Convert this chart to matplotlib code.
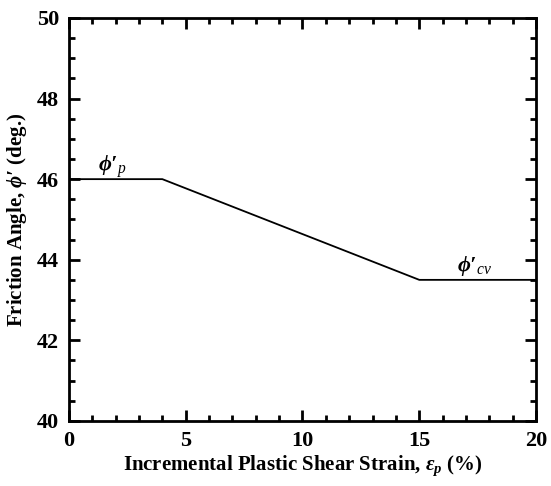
import matplotlib
matplotlib.use("Agg")
import matplotlib.pyplot as plt
from matplotlib.ticker import MultipleLocator

plt.rcParams['font.family'] = 'Liberation Serif'
plt.rcParams['font.weight'] = 'bold'
plt.rcParams['mathtext.fontset'] = 'custom'
plt.rcParams['mathtext.rm'] = 'Liberation Serif:weight=bold'
plt.rcParams['mathtext.it'] = 'Liberation Serif:style=italic:weight=normal'
plt.rcParams['mathtext.bf'] = 'Liberation Serif:weight=bold'
plt.rcParams['mathtext.bfit'] = 'Liberation Serif:style=italic:weight=bold'

# piecewise friction angle model
strain = [0, 4, 15, 20]
phi = [46, 46, 43.5, 43.5]

fig = plt.figure(figsize=(5.51, 4.86), dpi=100)
ax = fig.add_axes([0.125, 0.134, 0.848, 0.829])

ax.plot(strain, phi, color='black', lw=1.3)

ax.text(1.25, 46.2, r"$\mathbfit{\phi\prime}_{p}$", fontsize=16)
ax.text(16.6, 43.72, r"$\mathbfit{\phi\prime}_{cv}$", fontsize=16)

ax.set_xlim(0, 20)
ax.set_ylim(40, 50)
ax.xaxis.set_major_locator(MultipleLocator(5))
ax.xaxis.set_minor_locator(MultipleLocator(1))
ax.yaxis.set_major_locator(MultipleLocator(2))
ax.yaxis.set_minor_locator(MultipleLocator(0.5))
ax.tick_params(which='both', direction='in', top=True, right=True, width=2,
               labelsize=16)
ax.tick_params(which='major', length=8, pad=7)
ax.tick_params(which='minor', length=4)
for s in ax.spines.values():
    s.set_linewidth(2)

ax.set_xlabel(r"Incremental Plastic Shear Strain, $\mathbfit{\varepsilon}_{\mathbfit{p}}$ (%)",
              fontsize=15, fontweight='bold', labelpad=2)
ax.set_ylabel(r"Friction Angle, $\mathbfit{\phi\prime}$ (deg.)",
              fontsize=15, fontweight='bold', labelpad=6)

fig.savefig('out.png', dpi=100)
